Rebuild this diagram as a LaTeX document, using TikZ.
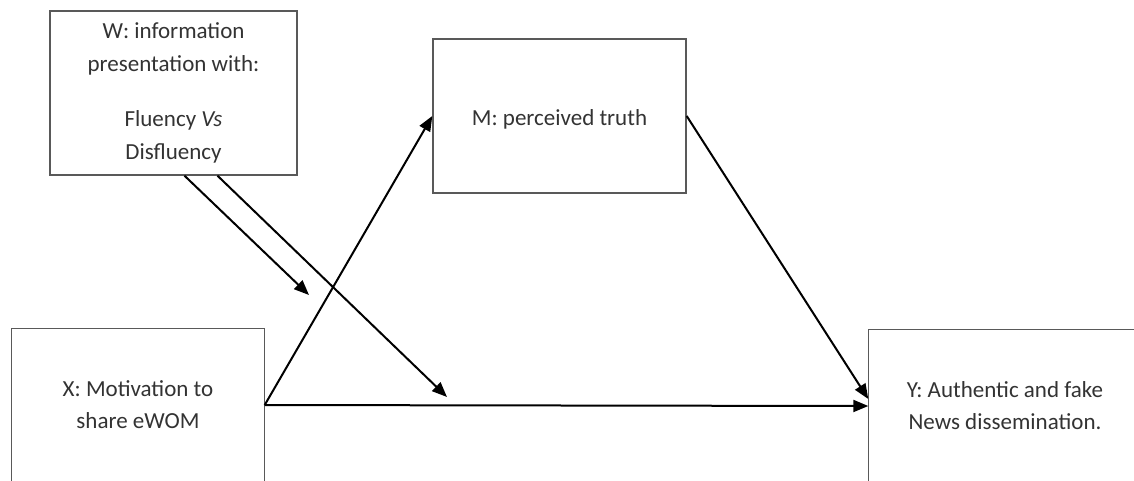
\documentclass[tikz,border=0pt]{standalone}
\usepackage{fontspec}
\setmainfont{Carlito}
\usetikzlibrary{arrows.meta}
\begin{document}
\begin{tikzpicture}[x=1pt,y=-1pt,
  boxline/.style={draw=black!65, line width=1.4pt},
  box/.style={boxline, inner sep=0pt, align=center,
    text=black!80, font=\fontsize{23}{32}\selectfont},
  openbox/.style={box, draw=none},
  arr/.style={draw=black, line width=2pt, -{Triangle[length=15pt,width=12pt]}}]
\useasboundingbox (0,0) rectangle (1134,480);
\clip (0,0) rectangle (1134,480);
\fill[white] (0,0) rectangle (1134,480);
\node[box, font=\fontsize{23}{33}\selectfont, minimum width=247pt, minimum height=164pt] (W) at (173.5,93)
  {W: information\\presentation with:\\[22pt]Fluency \textit{Vs}\\Disfluency};
\node[boxline, inner sep=0pt, text=black!80, font=\fontsize{23}{32}\selectfont,
  text height=22pt, text depth=3pt, minimum width=253pt, minimum height=154pt] (M) at (559.5,116) {M: perceived truth};
\node[openbox, minimum width=252pt, minimum height=152pt] (X) at (138,405) {X: Motivation to\\share eWOM};
\node[openbox, minimum width=272pt, minimum height=152pt] (Y) at (1005,406) {Y: Authentic and fake\\News dissemination.};
\draw[boxline] ([yshift=-10pt]X.south west) |- (X.north east) -- ([yshift=-10pt]X.south east);
\draw[boxline] ([yshift=-10pt]Y.south west) |- (Y.north east) -- ([yshift=-10pt]Y.south east);
\coordinate (a) at (309,295);
\coordinate (b) at (447,397);
\draw[arr] (X.east) -- (M.west);
\draw[arr] (M.east) -- ([yshift=7pt]Y.west);
\draw[arr] (X.east) -- (Y.west);
\draw[arr] ([xshift=11pt]W.south) -- (a);
\draw[arr] ([xshift=44pt]W.south) -- (b);
\end{tikzpicture}
\end{document}
